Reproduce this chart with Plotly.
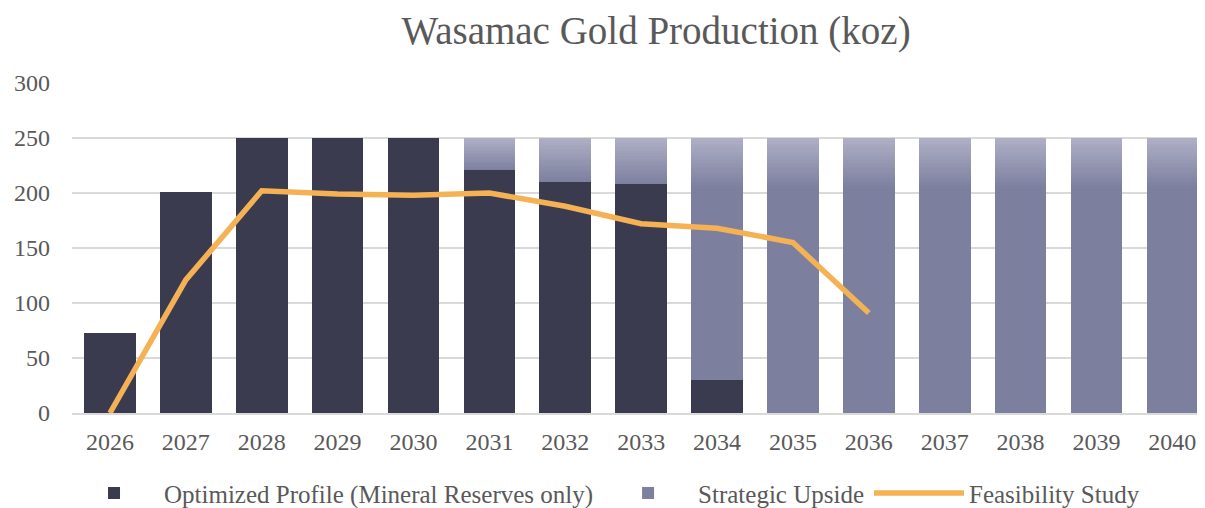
import plotly.graph_objects as go

years = ["2026", "2027", "2028", "2029", "2030", "2031", "2032", "2033",
         "2034", "2035", "2036", "2037", "2038", "2039", "2040"]
optimized = [73, 201, 250, 250, 250, 221, 210, 208, 30, 0, 0, 0, 0, 0, 0]
upside = [0, 0, 0, 0, 0, 29, 40, 42, 220, 250, 250, 250, 250, 250, 250]
feasibility = [0, 121, 202, 199, 198, 200, 188, 172, 168, 155, 91,
               None, None, None, None]

DARK = "#3b3b50"
BASE = (124, 127, 158)
LIGHT = (175, 176, 198)
ORANGE = "#f5b255"
FONT = "Liberation Serif"
GRAD_SPAN = 45   # top portion (koz) of each upside bar drawn as a fade
N_BANDS = 18

fig = go.Figure()
fig.add_trace(go.Bar(x=years, y=optimized, name="Optimized Profile (Mineral Reserves only)",
                     marker=dict(color=DARK, line=dict(width=0))))

solid = [max(0, u - GRAD_SPAN) for u in upside]
fig.add_trace(go.Bar(x=years, y=solid, name="Strategic Upside",
                     marker=dict(color="rgb(%d,%d,%d)" % BASE, line=dict(width=0))))
for k in range(N_BANDS):
    t = (k + 0.5) / N_BANDS
    col = tuple(round(BASE[i] + (LIGHT[i] - BASE[i]) * t) for i in range(3))
    band = [min(u, GRAD_SPAN) / N_BANDS for u in upside]
    fig.add_trace(go.Bar(x=years, y=band, showlegend=False, hoverinfo="skip",
                         marker=dict(color="rgb(%d,%d,%d)" % col, line=dict(width=0))))

fig.add_trace(go.Scatter(x=years, y=feasibility, name="Feasibility Study", mode="lines",
                         line=dict(color=ORANGE, width=5.5)))

fig.update_layout(
    width=1197, height=500,
    barmode="stack", bargap=0.32,
    plot_bgcolor="white", paper_bgcolor="white",
    margin=dict(l=64, r=0, t=75, b=95, autoexpand=False),
    font=dict(family=FONT, color="#595959", size=22),
    title=dict(text="Wasamac Gold Production (koz)", x=0.5414, xanchor="center",
               y=0.955, yanchor="middle", font=dict(family=FONT, size=39, color="#595959")),
    legend=dict(orientation="h", x=0.47, xanchor="center", y=-0.243, yanchor="middle",
                font=dict(family=FONT, size=25, color="#595959"), itemwidth=90,
                traceorder="normal"),
    showlegend=True,
)
fig.update_xaxes(showgrid=False, showline=True, linecolor="#d9d9d9", linewidth=2,
                 tickfont=dict(size=24), ticks="", range=[-0.5, 14.43],
                 ticklabelstandoff=6)
fig.update_yaxes(range=[0, 300], dtick=50, showgrid=True, gridcolor="#d9d9d9",
                 gridwidth=1.5, zeroline=False, tickfont=dict(size=24), ticks="",
                 ticklabelstandoff=21)

fig.write_html("out.html")
